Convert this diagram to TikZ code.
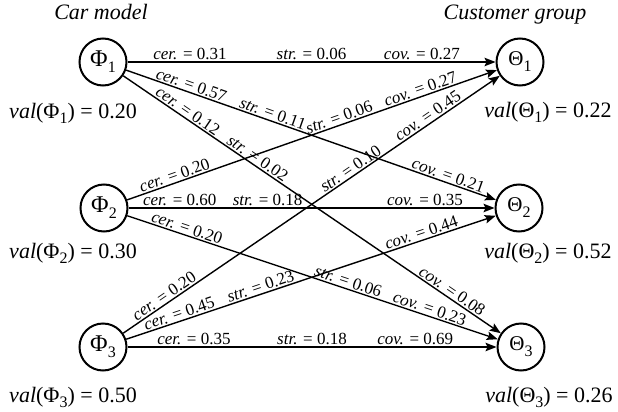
\documentclass[tikz,border=0pt]{standalone}
\usepackage{fontspec}
\setmainfont{Liberation Serif}
\usetikzlibrary{arrows.meta}
\newcommand{\csub}[1]{\raisebox{-6pt}{\fontsize{16}{16}\selectfont #1}}
\newcommand{\vsub}[1]{\raisebox{-5pt}{\fontsize{16}{16}\selectfont #1}}
\newcommand{\lcer}[1]{\textit{cer.} = #1}
\newcommand{\lstr}[1]{\textit{str.} = #1}
\newcommand{\lcov}[1]{\textit{cov.} = #1}
\tikzset{
  state/.style={circle, draw, line width=2pt, minimum size=47pt, inner sep=0pt},
  phitxt/.style={font=\fontsize{24}{26}\selectfont},
  thetatxt/.style={font=\fontsize{21}{24}\selectfont},
  edge/.style={line width=1.4pt, -{Stealth[length=11pt,width=8.5pt,inset=2pt]}},
  lbl/.style={sloped, above, inner sep=1.2pt, font=\fontsize{17}{19}\selectfont},
  big/.style={font=\fontsize{22}{26}\selectfont, anchor=base, inner sep=0pt},
  title/.style={font=\fontsize{22}{26}\selectfont\itshape, anchor=base, inner sep=0pt}
}
\begin{document}
\begin{tikzpicture}[x=1pt,y=-1pt]
\useasboundingbox (0,0) rectangle (618,412);
% nodes
\node[state,phitxt] (P1) at (103,62) {Φ\csub{1}};
\node[state,phitxt] (P2) at (104,208) {Φ\csub{2}};
\node[state,phitxt] (P3) at (103,347) {Φ\csub{3}};
\node[state,thetatxt] (T1) at (520,62) {Θ\csub{1}};
\node[state,thetatxt] (T2) at (519,208) {Θ\csub{2}};
\node[state,thetatxt] (T3) at (521,347) {Θ\csub{3}};
% titles
\node[title] (tl) at (101,20) {Car model};
\node[title] (tr) at (515,20) {Customer group};
% values
\node[big] (v1) at (73,118) {\textit{val}(Φ\vsub{1}) = 0.20};
\node[big] (v2) at (73,258) {\textit{val}(Φ\vsub{2}) = 0.30};
\node[big] (v3) at (73,402) {\textit{val}(Φ\vsub{3}) = 0.50};
\node[big] (w1) at (548,117) {\textit{val}(Θ\vsub{1}) = 0.22};
\node[big] (w2) at (548,258) {\textit{val}(Θ\vsub{2}) = 0.52};
\node[big] (w3) at (549,402) {\textit{val}(Θ\vsub{3}) = 0.26};
% edges from Phi1
\draw[edge] (P1) -- node[lbl,pos=0.17]{\lcer{0.31}} node[lbl,pos=0.50]{\lstr{0.06}} node[lbl,pos=0.80]{\lcov{0.27}} (T1);
\draw[edge] (P1) -- node[lbl,pos=0.17]{\lcer{0.57}} node[lbl,pos=0.39]{\lstr{0.11}} node[lbl,pos=0.865]{\lcov{0.21}} (T2);
\draw[edge] (P1) -- node[lbl,pos=0.16]{\lcer{0.12}} node[lbl,pos=0.345]{\lstr{0.02}} node[lbl,pos=0.86]{\lcov{0.08}} (T3);
% edges from Phi2
\draw[edge] (P2) -- node[lbl,pos=0.135]{\lcer{0.20}} node[lbl,pos=0.58]{\lstr{0.06}} node[lbl,pos=0.80]{\lcov{0.27}} (T1);
\draw[edge] (P2) -- node[lbl,pos=0.14]{\lcer{0.60}} node[lbl,pos=0.38]{\lstr{0.18}} node[lbl,pos=0.81]{\lcov{0.35}} (T2);
\draw[edge] (P2) -- node[lbl,pos=0.155]{\lcer{0.20}} node[lbl,pos=0.59]{\lstr{0.06}} node[lbl,pos=0.81]{\lcov{0.23}} (T3);
% edges from Phi3
\draw[edge] (P3) -- node[lbl,pos=0.12]{\lcer{0.20}} node[lbl,pos=0.615]{\lstr{0.10}} node[lbl,pos=0.82]{\lcov{0.45}} (T1);
\draw[edge] (P3) -- node[lbl,pos=0.15]{\lcer{0.45}} node[lbl,pos=0.37]{\lstr{0.23}} node[lbl,pos=0.805]{\lcov{0.44}} (T2);
\draw[edge] (P3) -- node[lbl,pos=0.18]{\lcer{0.35}} node[lbl,pos=0.50]{\lstr{0.18}} node[lbl,pos=0.78]{\lcov{0.69}} (T3);
\end{tikzpicture}
\end{document}
